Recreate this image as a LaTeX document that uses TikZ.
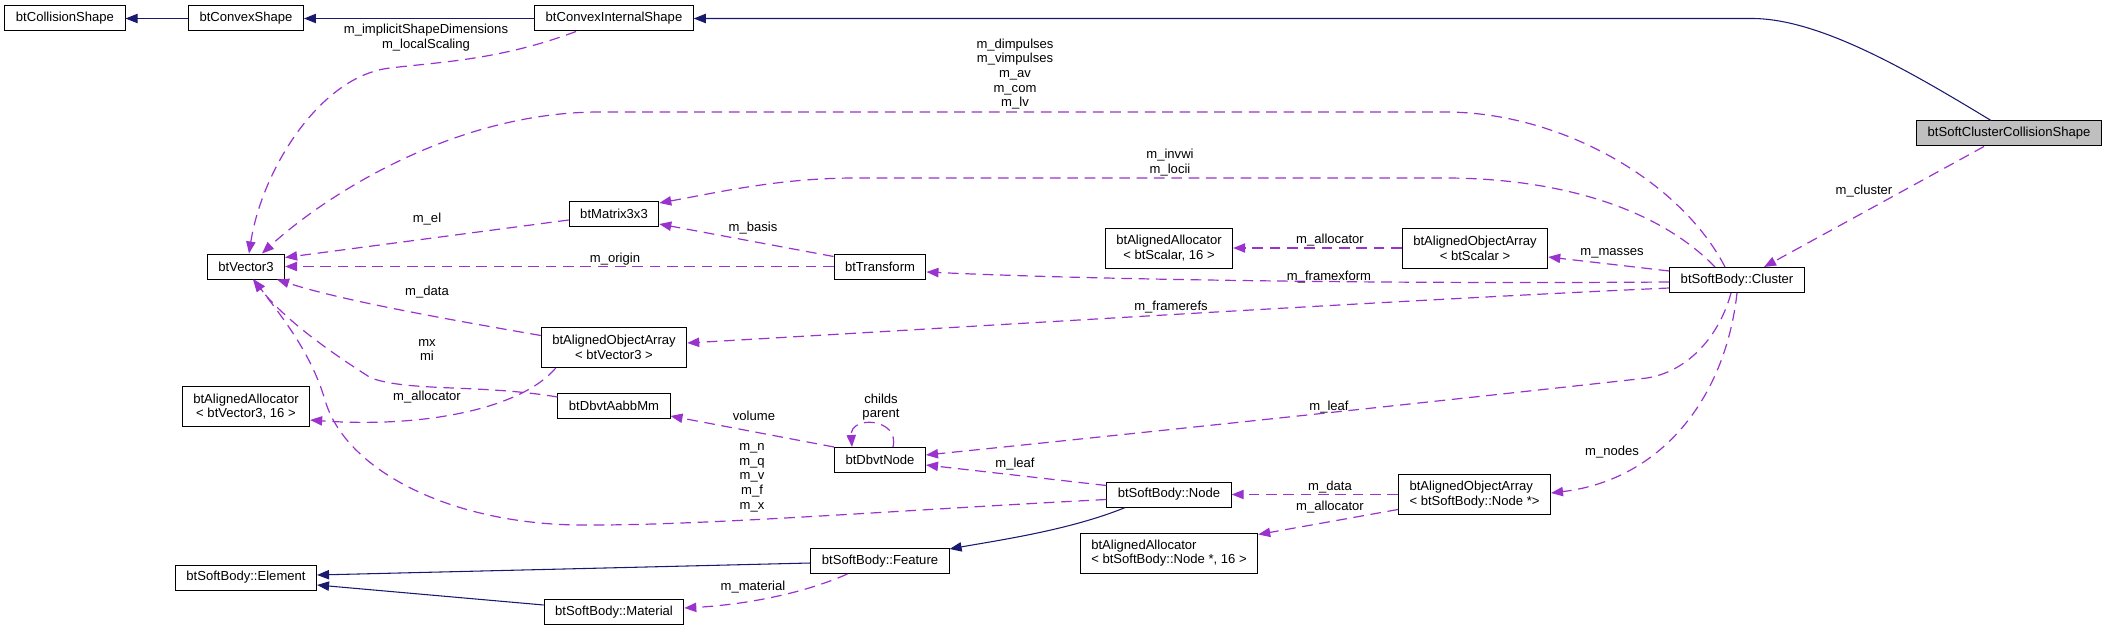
\documentclass[tikz,border=0pt]{standalone}
\usepackage{fontspec}
\setmainfont{Liberation Sans}
\usetikzlibrary{arrows.meta}
\usetikzlibrary{calc}

\definecolor{edgepurple}{HTML}{9A32CD}
\definecolor{edgenavy}{HTML}{191970}
\definecolor{nodegray}{HTML}{BFBFBF}

\tikzset{
  cls/.style={draw=black, line width=0.75pt, minimum height=18.75pt, inner xsep=8.25pt, inner ysep=2pt, font=\fontsize{9.8}{11}\selectfont},
  clstwo/.style={cls, align=center, minimum height=30pt},
  clsleft/.style={cls, align=left, minimum height=30pt},
  lbl/.style={inner sep=0pt, align=center, font=\fontsize{9.8}{11}\selectfont},
  usage/.style={edgepurple, line width=0.9pt, dash pattern=on 8pt off 5pt, -{Triangle[length=9pt,width=7pt]}},
  inherit/.style={edgenavy, line width=0.8pt, -{Triangle[length=9pt,width=7pt]}},
}

\begin{document}
\begin{tikzpicture}[x=0.75pt, y=-0.75pt]
          \useasboundingbox (0,0) rectangle (2108,631);

          \node [cls] (collision) at (65,18.5) {btCollisionShape}; % Draws a box
          \node [cls] (convex) at (246,18.5) {btConvexShape};
          \node [cls] (convexint) at (614,18.5) {btConvexInternalShape};
          \node [cls, fill=nodegray] (softcluster) at (2009,133.5) {btSoftClusterCollisionShape};

          \node [cls] (vector) at (246,266.5) {btVector3}; % Draws a box
          \node [cls] (matrix) at (614,214) {btMatrix3x3};
          \node [cls] (transform) at (880,266.5) {btTransform};
          \node [clstwo] (allocscalar) at (1169,248) {btAlignedAllocator\\< btScalar, 16 >};
          \node [clstwo] (arrscalar) at (1475,248) {btAlignedObjectArray\\< btScalar >};
          \node [cls] (cluster) at (1737,280) {btSoftBody::Cluster};

          \node [clstwo] (arrvector) at (614,347.5) {btAlignedObjectArray\\< btVector3 >}; % Draws a box
          \node [clstwo] (allocvector) at (246,406.5) {btAlignedAllocator\\< btVector3, 16 >};
          \node [cls] (aabb) at (614,406) {btDbvtAabbMm};
          \node [cls] (dbvtnode) at (880,460) {btDbvtNode};
          \node [cls] (sbnode) at (1169,494.5) {btSoftBody::Node};
          \node [clsleft] (arrnode) at (1474.5,494.5) {btAlignedObjectArray\\< btSoftBody::Node *>};
          \node [clsleft] (allocnode) at (1169,553) {btAlignedAllocator\\< btSoftBody::Node *, 16 >};

          \node [cls] (feature) at (880,561) {btSoftBody::Feature}; % Draws a box
          \node [cls] (element) at (246,577.5) {btSoftBody::Element};
          \node [cls] (material) at (614,612) {btSoftBody::Material};

          % inheritance
          \draw [inherit] (convex) -- (collision);
          \draw [inherit] (convexint) -- (convex);
          \draw [inherit] ($(softcluster.north)+(-18,0)$) .. controls (1911,72) and (1820,18.5) .. (1752,18.5) -- (convexint.east);
          \draw [inherit] ($(sbnode.south west)+(19,0)$) .. controls (1070,530) and (1000,540) .. ($(feature.north east)+(0,1)$);
          \draw [inherit] ($(feature.west)+(0,2)$) -- ($(element.east)+(0,-2.5)$);
          \draw [inherit] ($(material.west)+(0,-7)$) -- ($(element.east)+(0,7.5)$);

          % usage
          \draw [usage] ($(convexint.south)+(-38,0)$) .. controls (500,60) and (440,62) .. (390,68) .. controls (320,76) and (262,170) .. ($(vector.north)+(3,0)$);
          \draw [usage] ($(cluster.north)+(-12,0)$) .. controls (1680,180) and (1560,112) .. (1445,112) -- (600,112) .. controls (450,112) and (320,200) .. ($(vector.north)+(16,0)$);
          \draw [usage] ($(cluster.north)+(-22,0)$) .. controls (1650,200) and (1540,178) .. (1445,178) -- (856,178) .. controls (780,178) and (720,192) .. ($(matrix.east)+(0,-11)$);
          \draw [usage] ($(transform.north west)+(0,3)$) -- ($(matrix.east)+(0,10)$);
          \draw [usage] ($(matrix.west)+(0,6)$) -- ($(vector.east)+(0,-9)$);
          \draw [usage] (transform) -- (vector);
          \draw [usage] ($(arrvector.west)+(0,-12)$) .. controls (440,318) and (340,300) .. ($(vector.south)+(31,0)$);
          \draw [usage] ($(aabb.west)+(0,-9)$) .. controls (480,384) and (410,392) .. (371,378) .. controls (330,352) and (285,320) .. ($(vector.south)+(7,0)$);
          \draw [usage] ($(sbnode.west)+(0,5)$) .. controls (900,510) and (700,526) .. (580,525) .. controls (450,524) and (345,470) .. (325,400) .. controls (310,350) and (280,315) .. ($(vector.south)+(8,0)$);
          \draw [usage] ($(arrvector.south west)+(15,0)$) .. controls (520,410) and (420,428) .. ($(allocvector.east)+(0,13.5)$);
          \draw [usage] ($(cluster.west)+(0,8)$) .. controls (1400,300) and (1000,325) .. ($(arrvector.east)+(0,-4.5)$);
          \draw [usage] ($(cluster.west)+(0,2)$) .. controls (1400,284) and (1100,280) .. ($(transform.east)+(0,5.5)$);
          \draw [usage] ($(cluster.west)+(0,-9)$) -- ($(arrscalar.east)+(0,9)$);
          \draw [usage] (arrscalar) -- (allocscalar);
          \draw [usage] ($(softcluster.south)+(-25,0)$) -- ($(cluster.north)+(27,0)$);
          \draw [usage] ($(cluster.south)+(-6,0)$) .. controls (1718,340) and (1685,372) .. (1647,378) .. controls (1450,400) and (1150,432) .. ($(dbvtnode.east)+(0,-5)$);
          \draw [usage] (cluster.south) .. controls (1725,400) and (1660,480) .. ($(arrnode.east)+(0,-1.5)$);
          \draw [usage] ($(sbnode.north west)+(0,4)$) -- ($(dbvtnode.east)+(0,5)$);
          \draw [usage] (arrnode) -- (sbnode);
          \draw [usage] ($(arrnode.west)+(0,15)$) -- ($(allocnode.north east)+(0,2)$);
          \draw [usage] ($(feature.south west)+(37,0)$) .. controls (800,595) and (740,605) .. ($(material.east)+(0,-4)$);
          \draw [usage] (dbvtnode.north west) -- ($(aabb.east)+(0,10)$);
          \draw [usage] ($(dbvtnode.north)+(13,0)$) .. controls (900,418) and (850,415) .. ($(dbvtnode.north)+(-28,0)$);

          % edge labels
          \node [lbl] (l-implicit) at (426,37.5) {m\_implicitShapeDimensions\\m\_localScaling};
          \node [lbl] (l-dimpulses) at (1015,74) {m\_dimpulses\\m\_vimpulses\\m\_av\\m\_com\\m\_lv};
          \node [lbl] (l-invwi) at (1170,162.5) {m\_invwi\\m\_locii};
          \node [lbl] (l-el) at (427,219) {m\_el};
          \node [lbl] (l-basis) at (753,228) {m\_basis};
          \node [lbl] (l-origin) at (615,259) {m\_origin};
          \node [lbl] (l-datavec) at (427,292) {m\_data};
          \node [lbl] (l-mxmi) at (427,350) {mx\\mi};
          \node [lbl] (l-allocvec) at (427,397) {m\_allocator};
          \node [lbl] (l-allocscalar) at (1330,240) {m\_allocator};
          \node [lbl] (l-masses) at (1612,253) {m\_masses};
          \node [lbl] (l-cluster) at (1864,191) {m\_cluster};
          \node [lbl] (l-framexform) at (1329,277) {m\_framexform};
          \node [lbl] (l-framerefs) at (1171,307) {m\_framerefs};
          \node [lbl] (l-childs) at (881,407) {childs\\parent};
          \node [lbl] (l-volume) at (754,416) {volume};
          \node [lbl] (l-leafup) at (1329,407) {m\_leaf};
          \node [lbl] (l-nqvfx) at (752,477.5) {m\_n\\m\_q\\m\_v\\m\_f\\m\_x};
          \node [lbl] (l-leafdown) at (1015,464) {m\_leaf};
          \node [lbl] (l-nodes) at (1612,452) {m\_nodes};
          \node [lbl] (l-datanode) at (1330,487) {m\_data};
          \node [lbl] (l-allocnode) at (1330,507) {m\_allocator};
          \node [lbl] (l-material) at (753,587) {m\_material};
        \end{tikzpicture}
\end{document}
